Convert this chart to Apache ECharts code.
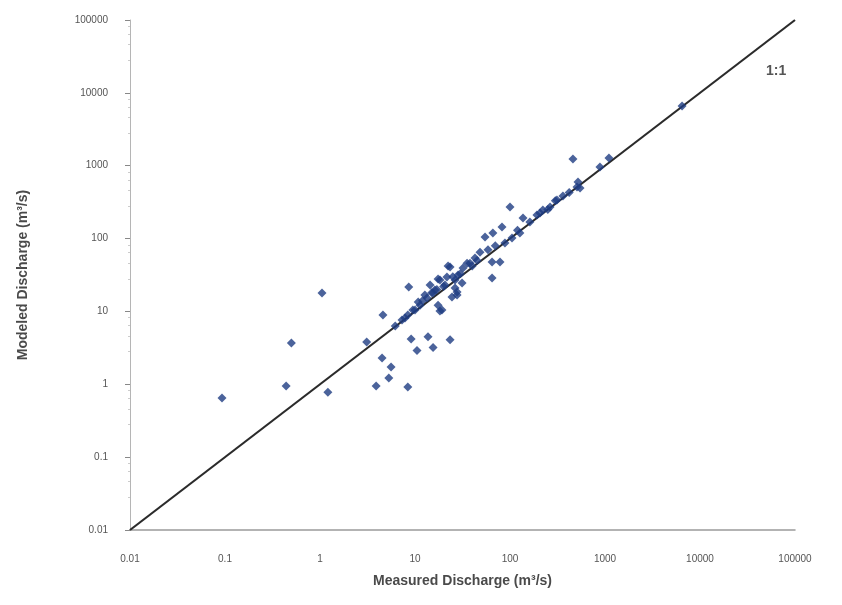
<!DOCTYPE html>
<html>
<head>
<meta charset="utf-8">
<script src="https://cdn.jsdelivr.net/npm/echarts@6/dist/echarts.min.js"></script>
<style>html,body{margin:0;padding:0;background:#fff}#c{width:842px;height:605px}</style>
</head>
<body>
<div id="c"></div>
<script>
// Measured discharge (m3/s)
var measured = [0.093,0.44,0.50,1.05,1.21,3.1,3.9,4.5,5.3,5.6,8.4,9.1,10.5,13.7,15.5,23.4,4.6,8.6,18.3,6.2,7.3,8.4,10.0,10.8,12.7,14.4,15.5,17.5,17.5,19.2,22.3,24.5,26.4,27.7,31.3,35.3,23.4,21.7,26.4,27.7,18.3,32,37.9,48.3,54.6,66,64.7,78.5,64.7,82.4,100,105,127,137,192,207,222,264,312,361,460,507,520,546,885,1100,6470,11.3,13.4,20.7,42.8,58.7,88.5,162,16.2,28.4,7.85,15,20,12,25,30,9.5,45,70,120,250,300,420,17,40];
// Modeled discharge (m3/s)
var modeled = [0.65,0.95,3.7,17.9,0.78,3.8,0.95,2.3,1.22,1.73,0.92,4.2,2.9,4.5,3.2,4.1,8.9,21.6,10.1,6.3,7.6,8.9,10.5,13.5,16.8,23,17.9,27.9,12.2,10.5,42,15.8,27,18.5,24.5,46,40.7,29.7,21,16.8,27,39.4,46,65,105,119,47.6,47.6,28.8,144,271,102,119,191,211,224,247,271,338,384,1236,510,597,494,960,1276,6600,12.2,15.3,23,54,70,87,169,19.7,31.6,8.1,18,22,14,30,33,10.5,50,80,130,250,330,430,20,42];
var lineEnds = [0.01, 100000];
var tickLabels = {'0.01':'0.01','0.1':'0.1','1':'1','10':'10','100':'100','1000':'1000','10000':'10000','100000':'100000'};

var pts = measured.map(function(m,i){return [m, modeled[i]];});
var chart = echarts.init(document.getElementById('c'), null, {renderer:'canvas'});
function fmt(v){
  var k = String(+v.toPrecision(6));
  return tickLabels[k] !== undefined ? tickLabels[k] : '';
}
chart.setOption({
  backgroundColor:'#fff',
  animation:false,
  grid:{left:130, right:47, top:20, bottom:75},
  xAxis:{
    type:'log', logBase:10, min:0.01, max:100000,
    name:'Measured Discharge (m³/s)', nameLocation:'middle', nameGap:44,
    nameTextStyle:{fontFamily:'Liberation Sans', fontWeight:'bold', fontSize:14, color:'#4a4a4a'},
    axisLine:{lineStyle:{color:'#9a9a9a', width:1.5}},
    axisTick:{show:false},
    splitLine:{show:false},
    axisLabel:{formatter:fmt, margin:24, fontFamily:'Liberation Sans', fontSize:10, color:'#555'}
  },
  yAxis:{
    type:'log', logBase:10, min:0.01, max:100000,
    name:'Modeled Discharge (m³/s)', nameLocation:'middle', nameGap:100,
    nameTextStyle:{fontFamily:'Liberation Sans', fontWeight:'bold', fontSize:14, color:'#4a4a4a'},
    axisLine:{lineStyle:{color:'#b5b5b5', width:1}},
    axisTick:{show:true, length:5, lineStyle:{color:'#888'}},
    minorTick:{show:true, splitNumber:5, length:2, lineStyle:{color:'#ccc'}},
    splitLine:{show:false},
    axisLabel:{formatter:fmt, margin:22, fontFamily:'Liberation Sans', fontSize:10, color:'#555'}
  },
  series:[
    {
      type:'line', data:[[lineEnds[0],lineEnds[0]],[lineEnds[1],lineEnds[1]]],
      symbol:'none', lineStyle:{color:'#2b2b2b', width:2.2}, z:1
    },
    {
      type:'scatter', data:pts, symbol:'diamond', symbolSize:[9,9],
      itemStyle:{color:'#1e3c82'}, z:2
    }
  ],
  graphic:[
    {type:'text', left:766, top:64, style:{text:'1:1', font:'bold 14px "Liberation Sans"', fill:'#555'}}
  ]
});
</script>
</body>
</html>
